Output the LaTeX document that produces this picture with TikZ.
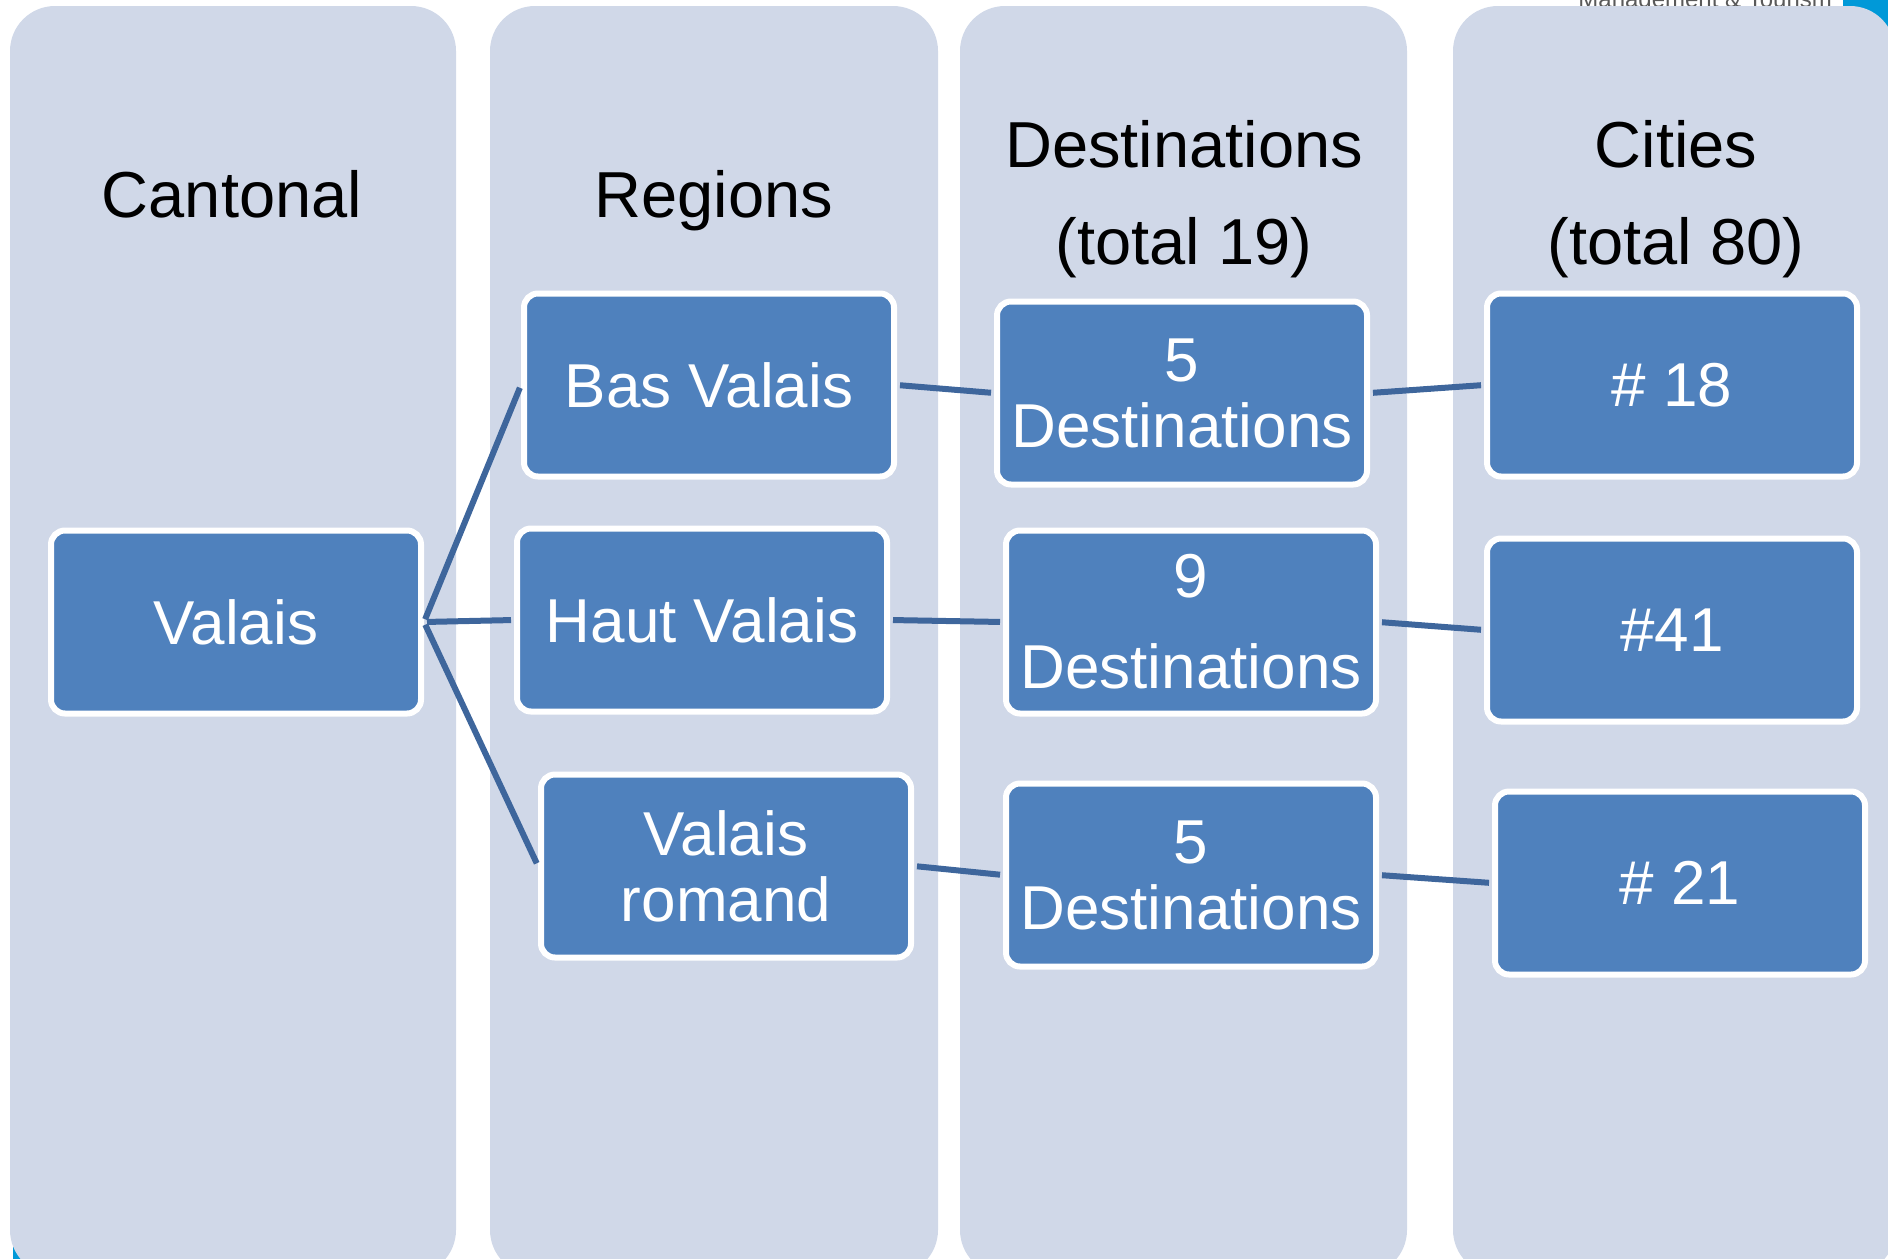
\documentclass[tikz,border=0pt]{standalone}
\usepackage{fontspec}
\setmainfont{Liberation Sans}
\definecolor{colfill}{RGB}{208,216,232}
\definecolor{boxfill}{RGB}{79,129,189}
\definecolor{linkc}{RGB}{62,102,156}
\definecolor{logoblue}{RGB}{0,153,216}
\definecolor{mgray}{RGB}{90,90,90}
\begin{document}
\begin{tikzpicture}[x=0.5pt,y=-0.5pt,
  col/.style={fill=colfill, draw=none, rounded corners=22.5pt},
  box/.style={draw=white, line width=3pt, fill=boxfill, rounded corners=7pt,
    minimum width=185pt, minimum height=91.5pt, inner sep=0pt, text=white,
    font=\fontsize{31}{33}\selectfont, align=center},
  hdr/.style={font=\fontsize{32.5}{48.5}\selectfont, align=center, text=black, inner sep=0pt},
  link/.style={draw=linkc, line width=3pt, shorten <=1.5pt, shorten >=1.5pt}]
\useasboundingbox (0,0) rectangle (1888,1258);
\begin{scope}
  \clip (0,0) rectangle (1888,1258);
  \node[anchor=base west, font=\fontsize{12}{12}\selectfont, text=mgray, inner sep=0pt] (mgmt) at (1578,8) {Management \& Tourism};
  \fill[logoblue] (1843,-10) rectangle (1895,30);
  \fill[logoblue] (13,1238) rectangle (80,1270);
  \fill[col] (10,6) rectangle (456,1275);
  \fill[col] (490,6) rectangle (938,1275);
  \fill[col] (960,6) rectangle (1407,1275);
  \fill[col] (1453,6) rectangle (1895,1275);
\end{scope}

\node[hdr, anchor=base] (h1) at (232,217) {Cantonal};
\node[hdr, anchor=base] (h2) at (714,217) {Regions};
\node[hdr] (h3) at (1184,199) {Destinations\\(total 19)};
\node[hdr] (h4) at (1676,199) {Cities\\(total 80)};

\node[box] (valais) at (236,622) {Valais};
\node[box] (bas) at (709,385) {Bas Valais};
\node[box] (haut) at (702,620) {Haut Valais};
\node[box] (romand) at (726,866) {Valais\\romand};
\node[box] (d1) at (1182,393) {5\\Destinations};
\node[box, font=\fontsize{31}{45.5}\selectfont] (d2) at (1191,622) {9\\Destinations};
\node[box] (d3) at (1191,875) {5\\Destinations};
\node[box] (c1) at (1672,385) {\# 18};
\node[box] (c2) at (1672,630) {\#41};
\node[box] (c3) at (1680,883) {\# 21};

\draw[link] (valais.east) -- (bas.west);
\draw[link] (valais.east) -- (haut.west);
\draw[link] (valais.east) -- (romand.west);
\draw[link] (bas.east) -- (d1.west);
\draw[link] (haut.east) -- (d2.west);
\draw[link] (romand.east) -- (d3.west);
\draw[link] (d1.east) -- (c1.west);
\draw[link] (d2.east) -- (c2.west);
\draw[link] (d3.east) -- (c3.west);
\end{tikzpicture}
\end{document}
